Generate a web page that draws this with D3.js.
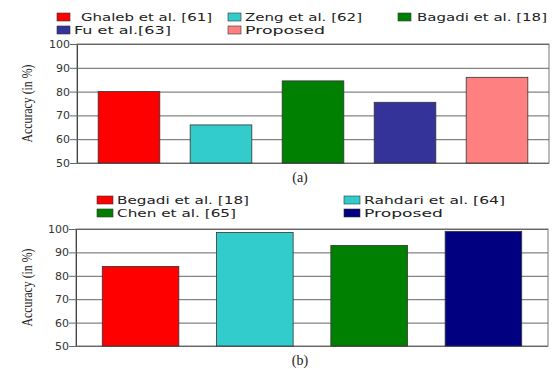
<!DOCTYPE html>
<html>
<head>
<meta charset="utf-8">
<script src="https://cdn.jsdelivr.net/npm/d3@7"></script>
<style>
  body { margin: 0; background: #fff; }
  svg { display: block; }
</style>
</head>
<body>
<svg width="557" height="369"></svg>
<script>
// panel (a)
var catsA = ["Ghaleb et al. [61]", "Zeng et al. [62]", "Bagadi et al. [18]", "Fu et al.[63]", "Proposed"];
var valsA = [80, 66, 84.5, 75.5, 86];
var colorsA = ["#ff0000", "#33cccc", "#008000", "#333399", "#ff8080"];

// panel (b)
var catsB = ["Begadi et al. [18]", "Rahdari et al. [64]", "Chen et al. [65]", "Proposed"];
var valsB = [84, 98.5, 93, 99];
var colorsB = ["#ff0000", "#33cccc", "#008000", "#000080"];

var yTicks = [50, 60, 70, 80, 90, 100];

var svg = d3.select("svg");

var drawPanel = function(opt)
{
  var g = svg.append("g");

  var x = d3.scaleBand()
            .domain(opt.cats)
            .range([opt.left, opt.right])
            .paddingInner(opt.padIn)
            .paddingOuter(opt.padOut);

  var y = d3.scaleLinear()
            .domain([50, 100])
            .range([opt.bottom, opt.top]);

  // plot box
  g.append("rect")
   .attr("x", opt.left).attr("y", opt.top)
   .attr("width", opt.right - opt.left)
   .attr("height", opt.bottom - opt.top)
   .attr("fill", "#fff")
   .attr("stroke", "#777")
   .attr("stroke-width", 1);

  // grid + axis
  var axis = d3.axisLeft(y)
               .tickValues(yTicks)
               .tickSize(-(opt.right - opt.left))
               .tickPadding(14)
               .tickFormat(d3.format("d"));

  var ax = g.append("g")
            .attr("transform", "translate(" + opt.left + ",0)")
            .call(axis);
  ax.select(".domain").attr("stroke", "#444");
  ax.selectAll(".tick line")
    .attr("x1", -7)
    .attr("stroke", "#666");
  ax.selectAll(".tick text")
    .attr("font-family", "DejaVu Sans")
    .attr("font-size", 11)
    .attr("fill", "#333")
    .attr("dx", 7);

  g.selectAll("rect.bar")
   .data(opt.vals)
   .enter()
   .append("rect")
   .attr("class", "bar")
   .attr("x", function(d, i) { return x(opt.cats[i]); })
   .attr("width", x.bandwidth())
   .attr("y", function(d) { return y(d); })
   .attr("height", function(d) { return y(50) - y(d); })
   .attr("fill", function(d, i) { return opt.colors[i]; })
   .attr("stroke", "#333")
   .attr("stroke-width", 0.8);

  // y label
  g.append("text")
   .attr("transform", "translate(" + opt.labelX + "," + ((opt.top + opt.bottom) / 2) + ") rotate(-90)")
   .attr("text-anchor", "middle")
   .attr("dy", "0.35em")
   .attr("font-family", "Liberation Serif")
   .attr("font-size", 14)
   .attr("textLength", 78)
   .attr("lengthAdjust", "spacingAndGlyphs")
   .attr("fill", "#222")
   .text("Accuracy (in %)");

  // caption
  g.append("text")
   .attr("x", opt.capX).attr("y", opt.capY)
   .attr("text-anchor", "middle")
   .attr("font-family", "Liberation Serif")
   .attr("font-size", 14)
   .attr("fill", "#222")
   .text(opt.caption);

  // legend
  var leg = g.selectAll("g.leg")
             .data(opt.cats)
             .enter()
             .append("g")
             .attr("class", "leg")
             .attr("transform", function(d, i) {
               var c = i % opt.legCols.length;
               var r = Math.floor(i / opt.legCols.length);
               return "translate(" + opt.legCols[c] + "," + (opt.legY + r * opt.legRow) + ")";
             });

  leg.append("rect")
     .attr("x", 0).attr("y", -8)
     .attr("width", opt.sw).attr("height", 8)
     .attr("fill", function(d, i) { return opt.colors[i]; })
     .attr("stroke", "#333")
     .attr("stroke-width", 0.6);

  leg.append("text")
     .attr("x", function(d, i) { return opt.sw + opt.txtGap[i]; })
     .attr("y", 0)
     .attr("font-family", "DejaVu Sans")
     .attr("font-size", 11)
     .attr("textLength", function(d, i) { return opt.txtLen[i]; })
     .attr("lengthAdjust", "spacingAndGlyphs")
     .attr("fill", "#222")
     .text(function(d) { return d; });
};

drawPanel({
  cats: catsA, vals: valsA, colors: colorsA,
  left: 77, right: 549, top: 44, bottom: 163,
  padIn: 0.33, padOut: 0.23,
  labelX: 27, capX: 300, capY: 182, caption: "(a)",
  legCols: [57, 228, 398], legY: 21, legRow: 13,
  sw: 13, txtGap: [11, 4, 6, 4, 4], txtLen: [131, 117, 130, 97, 80]
});

drawPanel({
  cats: catsB, vals: valsB, colors: colorsB,
  left: 76, right: 548, top: 229, bottom: 346,
  padIn: 0.33, padOut: 0.23,
  labelX: 27, capX: 300, capY: 365, caption: "(b)",
  legCols: [97, 344], legY: 204, legRow: 13,
  sw: 16, txtGap: [4, 4, 4, 4], txtLen: [132, 141, 119, 79]
});
</script>
</body>
</html>
